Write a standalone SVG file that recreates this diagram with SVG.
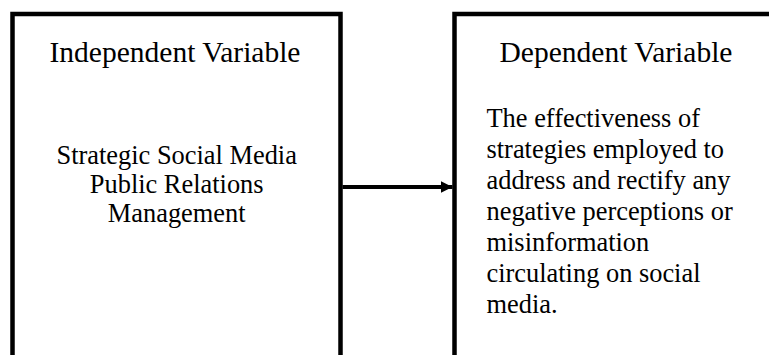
<svg xmlns="http://www.w3.org/2000/svg" width="769" height="355" viewBox="0 0 769 355">
<style>
.box{fill:#fff;stroke:#000;stroke-width:4.5}
.t{font-family:"Liberation Serif","Times New Roman",serif;fill:#000}
.title{font-size:29.5px;text-anchor:middle}
.body{font-size:26.4px}
.mid{text-anchor:middle}
.conn{stroke:#000;stroke-width:4.2;fill:none}
</style>
<defs>
<marker id="ah" markerUnits="userSpaceOnUse" markerWidth="12" markerHeight="12" refX="12" refY="6" orient="auto">
<path d="M0,0 L12,6 L0,12 Z" fill="#000"/>
</marker>
</defs>
<rect width="769" height="355" fill="#fff"/>
<g id="node-independent">
<rect class="box" x="12.5" y="14" width="328" height="360"/>
<text class="t title" x="175" y="62">Independent Variable</text>
<text class="t body mid" x="176.7" y="164.3">Strategic Social Media</text>
<text class="t body mid" x="176.7" y="193">Public Relations</text>
<text class="t body mid" x="176.7" y="221.7">Management</text>
</g>
<g id="node-dependent">
<rect class="box" x="454.5" y="14" width="340" height="360"/>
<text class="t title" x="616" y="62">Dependent Variable</text>
<text class="t body" x="486.5" y="126.5">The effectiveness of</text>
<text class="t body" x="486.5" y="157.6">strategies employed to</text>
<text class="t body" x="486.5" y="188.7">address and rectify any</text>
<text class="t body" x="486.5" y="219.8">negative perceptions or</text>
<text class="t body" x="486.5" y="250.9">misinformation</text>
<text class="t body" x="486.5" y="282">circulating on social</text>
<text class="t body" x="486.5" y="313.1">media.</text>
</g>
<g id="connectors">
<line class="conn" x1="342.5" y1="187" x2="452.5" y2="187" marker-end="url(#ah)"/>
</g>
</svg>
